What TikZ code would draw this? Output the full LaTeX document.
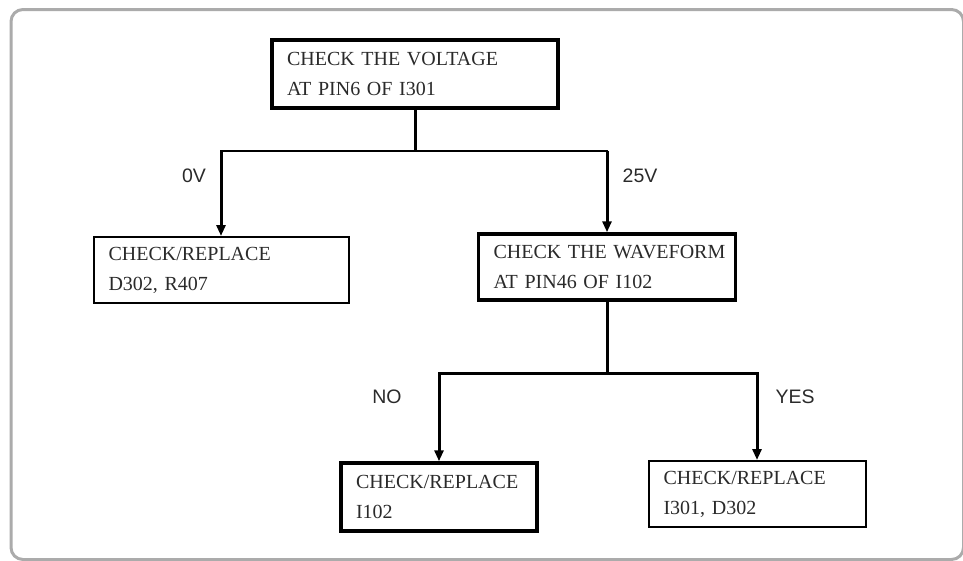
\documentclass[tikz,border=0pt]{standalone}
\usepackage{fontspec}
\setmainfont{Liberation Serif}
\newfontfamily\labelfont{Liberation Sans}
\usetikzlibrary{arrows.meta}
\definecolor{FrameGray}{HTML}{ABABAB}
\definecolor{InkGray}{HTML}{2A2A2A}

\tikzset{
    checkbox/.style={draw=black, line width=#1, inner xsep=15pt, inner ysep=0pt,
        minimum height=66pt, align=left, text=InkGray,
        font=\fontsize{20}{30}\selectfont},
    vlabel/.style={text=InkGray, font=\labelfont\fontsize{19.5}{21}\selectfont},
    stem/.style={line width=3pt},
    bus/.style={line width=#1, line cap=rect},
    branch/.style={line width=3pt, -{Triangle[length=11pt,width=9pt]}},
}

\begin{document}
\begin{tikzpicture}[x=1pt, y=-1pt]
    \useasboundingbox (0,0) rectangle (963,560);

    % Outer frame
    \draw[FrameGray, line width=3pt, rounded corners=12pt] (11,9.5) rectangle (963.5,559.5);

    % Boxes
    \node[checkbox=3.5pt, text width=256pt, minimum height=68pt] (volt) at (415,74)
        {CHECK THE VOLTAGE\\AT PIN6 OF I301};
    \node[checkbox=2pt, text width=225pt] (rep1) at (221,270)
        {CHECK/REPLACE\\D302, R407};
    \node[checkbox=3.5pt, text width=227pt] (wave) at (607,267)
        {\mbox{CHECK THE WAVEFORM}\\AT PIN46 OF I102};
    \node[checkbox=3.5pt, text width=166pt, minimum height=68pt] (rep2) at (439,497)
        {CHECK/REPLACE\\I102};
    \node[checkbox=2pt, text width=187pt] (rep3) at (757,494)
        {CHECK/REPLACE\\I301, D302};

    % First split
    \coordinate (j1) at (415,151);
    \draw[stem] (volt) -- (j1);
    \draw[bus=2pt] (j1 -| rep1) -- (j1 -| wave);
    \draw[branch] (j1 -| rep1) -- (rep1);
    \draw[branch] (j1 -| wave) -- (wave);
    \node[vlabel] (l0v) at (194,176) {0V};
    \node[vlabel] (l25v) at (640,176) {25V};

    % Second split
    \coordinate (j2) at (607,373);
    \draw[stem] (wave) -- (j2);
    \draw[branch] (j2) -| (rep2);
    \draw[branch] (j2) -| (rep3);
    \node[vlabel] (lno) at (387,397) {NO};
    \node[vlabel] (lyes) at (795,397) {YES};
\end{tikzpicture}
\end{document}
